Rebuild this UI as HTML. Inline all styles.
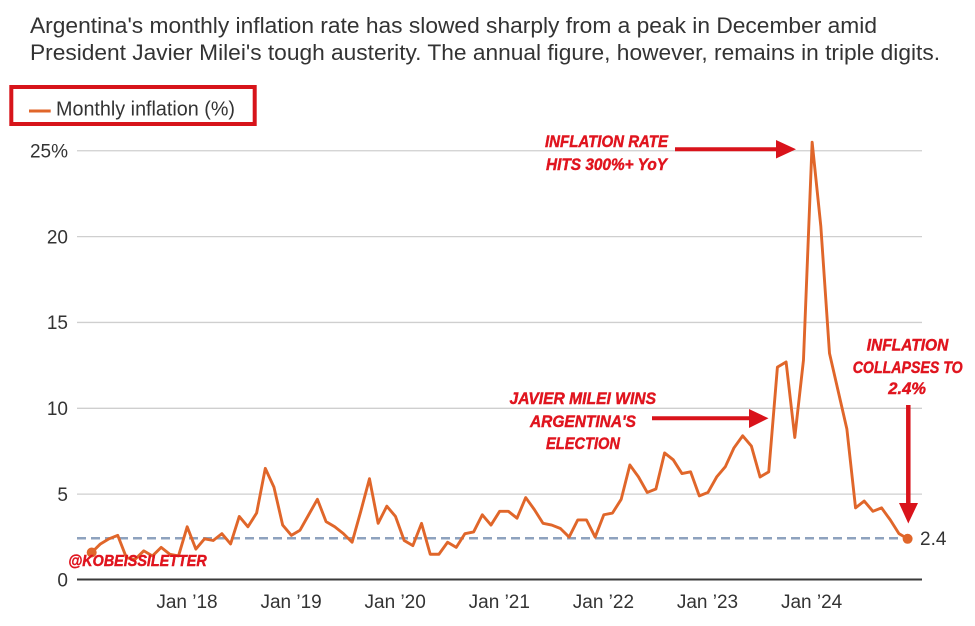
<!DOCTYPE html>
<html>
<head>
<meta charset="utf-8">
<style>
  html, body { margin:0; padding:0; background:#fff; }
  body { width:975px; height:626px; overflow:hidden; }
  svg { display:block; }
  .t { font-family:"Liberation Sans", Arial, sans-serif; fill:#333; }
  .a { font-family:"Liberation Sans", Arial, sans-serif; font-weight:bold; font-style:italic; fill:#e0141e; stroke:#e0141e; stroke-width:0.45; }
</style>
</head>
<body>
<svg width="975" height="626" viewBox="0 0 975 626" xmlns="http://www.w3.org/2000/svg">
  <rect width="975" height="626" fill="#fff"/>

  <!-- Title -->
  <text class="t" x="30" y="33" font-size="22" textLength="847" lengthAdjust="spacingAndGlyphs">Argentina's monthly inflation rate has slowed sharply from a peak in December amid</text>
  <text class="t" x="30" y="60" font-size="22" textLength="910" lengthAdjust="spacingAndGlyphs">President Javier Milei's tough austerity. The annual figure, however, remains in triple digits.</text>

  <!-- Legend -->
  <rect x="11.3" y="87" width="243.4" height="37" fill="none" stroke="#d7141a" stroke-width="4"/>
  <line x1="29" y1="111" x2="50.7" y2="111" stroke="#e0662a" stroke-width="3"/>
  <text class="t" x="56" y="115.5" font-size="20" textLength="179" lengthAdjust="spacingAndGlyphs">Monthly inflation (%)</text>

  <!-- Gridlines -->
  <g stroke="#cfcfcf" stroke-width="1.3">
    <line x1="77" y1="150.75" x2="922" y2="150.75"/>
    <line x1="77" y1="236.6" x2="922" y2="236.6"/>
    <line x1="77" y1="322.45" x2="922" y2="322.45"/>
    <line x1="77" y1="408.3" x2="922" y2="408.3"/>
    <line x1="77" y1="494.15" x2="922" y2="494.15"/>
  </g>
  <line x1="77" y1="579.5" x2="922" y2="579.5" stroke="#3a3a3a" stroke-width="2"/>

  <!-- Y labels -->
  <g class="t" font-size="19" text-anchor="end">
    <text x="68" y="157.5">25%</text>
    <text x="68" y="243.3">20</text>
    <text x="68" y="329.2">15</text>
    <text x="68" y="415">10</text>
    <text x="68" y="500.9">5</text>
    <text x="68" y="586.7">0</text>
  </g>

  <!-- X labels -->
  <g class="t" font-size="19" text-anchor="middle">
    <text x="187" y="608">Jan ’18</text>
    <text x="291.1" y="608">Jan ’19</text>
    <text x="395.2" y="608">Jan ’20</text>
    <text x="499.3" y="608">Jan ’21</text>
    <text x="603.4" y="608">Jan ’22</text>
    <text x="707.5" y="608">Jan ’23</text>
    <text x="811.6" y="608">Jan ’24</text>
  </g>

  <!-- Dashed reference line -->
  <line x1="77" y1="538.3" x2="916" y2="538.3" stroke="#8ea2be" stroke-width="2.5" stroke-dasharray="9 5"/>
  <text class="t" x="920" y="545" font-size="19">2.4</text>

  <!-- Series -->
  <polyline transform="translate(91.7,580) scale(8.68,-17.17)" vector-effect="non-scaling-stroke"
    fill="none" stroke="#e0662a" stroke-width="2.9" stroke-linejoin="round" stroke-linecap="round"
    points="0,1.6 1,2.1 2,2.4 3,2.6 4,1.3 5,1.2 6,1.7 7,1.4 8,1.9 9,1.5 10,1.4 11,3.1
12,1.8 13,2.4 14,2.3 15,2.7 16,2.1 17,3.7 18,3.1 19,3.9 20,6.5 21,5.4 22,3.2 23,2.6
24,2.9 25,3.8 26,4.7 27,3.4 28,3.1 29,2.7 30,2.2 31,4.0 32,5.9 33,3.3 34,4.3 35,3.7
36,2.3 37,2.0 38,3.3 39,1.5 40,1.5 41,2.2 42,1.9 43,2.7 44,2.8 45,3.8 46,3.2 47,4.0
48,4.0 49,3.6 50,4.8 51,4.1 52,3.3 53,3.2 54,3.0 55,2.5 56,3.5 57,3.5 58,2.5 59,3.8
60,3.9 61,4.7 62,6.7 63,6.0 64,5.1 65,5.3 66,7.4 67,7.0 68,6.2 69,6.3 70,4.9 71,5.1
72,6.0 73,6.6 74,7.7 75,8.4 76,7.8 77,6.0 78,6.3 79,12.4 80,12.7 81,8.3 82,12.8 83,25.5
84,20.6 85,13.2 86,11.0 87,8.8 88,4.2 89,4.6 90,4.0 91,4.2 92,3.5 93,2.7 94,2.4"/>
  <circle cx="91.7" cy="552.5" r="5" fill="#e0662a"/>
  <circle cx="907.6" cy="538.8" r="5" fill="#e0662a"/>

  <!-- Annotations -->
  <text class="a" x="545" y="147" font-size="16.5" textLength="123" lengthAdjust="spacingAndGlyphs">INFLATION RATE</text>
  <text class="a" x="546" y="170" font-size="16.5" textLength="121" lengthAdjust="spacingAndGlyphs">HITS 300%+ YoY</text>
  <line x1="675" y1="149.3" x2="778" y2="149.3" stroke="#d9131b" stroke-width="4"/>
  <polygon points="776,140 796,149.3 776,158.5" fill="#d9131b"/>

  <text class="a" x="509.5" y="404" font-size="16.5" textLength="146.5" lengthAdjust="spacingAndGlyphs">JAVIER MILEI WINS</text>
  <text class="a" x="530" y="427" font-size="16.5" textLength="106" lengthAdjust="spacingAndGlyphs">ARGENTINA'S</text>
  <text class="a" x="546" y="449" font-size="16.5" textLength="74" lengthAdjust="spacingAndGlyphs">ELECTION</text>
  <line x1="652" y1="418.3" x2="751" y2="418.3" stroke="#d9131b" stroke-width="4"/>
  <polygon points="749,409 768.5,418.3 749,428" fill="#d9131b"/>

  <text class="a" x="866.7" y="350.5" font-size="16.5" textLength="81.6" lengthAdjust="spacingAndGlyphs">INFLATION</text>
  <text class="a" x="852.7" y="373" font-size="16.5" textLength="110" lengthAdjust="spacingAndGlyphs">COLLAPSES TO</text>
  <text class="a" x="888.3" y="394" font-size="16.5" textLength="37.7" lengthAdjust="spacingAndGlyphs">2.4%</text>
  <line x1="908.3" y1="405" x2="908.3" y2="505" stroke="#d9131b" stroke-width="4.5"/>
  <polygon points="899,503 908.3,523.5 918,503" fill="#d9131b"/>

  <text class="a" x="68.3" y="566" font-size="15.5" textLength="138.4" lengthAdjust="spacingAndGlyphs">@KOBEISSILETTER</text>
</svg>
</body>
</html>
